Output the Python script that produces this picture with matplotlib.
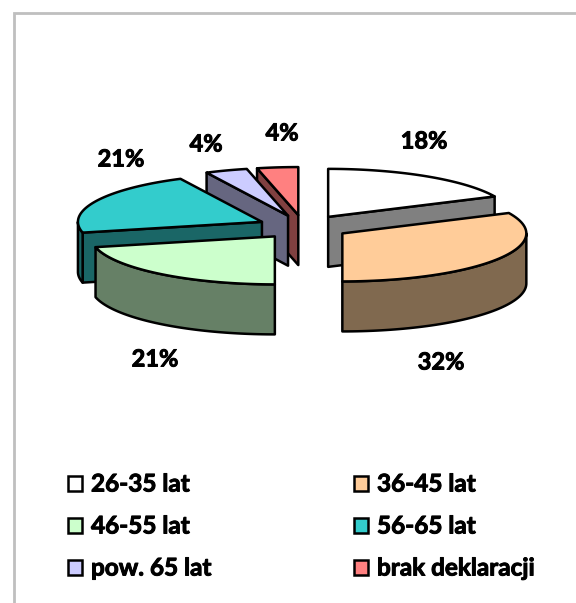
import numpy as np
import matplotlib
matplotlib.use("Agg")
import matplotlib.pyplot as plt
import matplotlib.patheffects as pe
from matplotlib.patches import Polygon, Rectangle

categories = ["26-35 lat", "36-45 lat", "46-55 lat", "56-65 lat", "pow. 65 lat", "brak deklaracji"]
shares = [18, 32, 21.4, 21.3, 3.7, 3.6]
colors = ["#FFFFFF", "#FFCC99", "#CCFFCC", "#33CCCC", "#CCCCFF", "#FF8080"]
side_colors = ["#808080", "#80694F", "#668066", "#1A6666", "#666680", "#804040"]

W, H = 576, 603
CX, CY, RX, RY, DEPTH, EXPLODE = 303.5, 227, 184, 48, 50, 0.25
LW = 1.8

plt.rcParams["font.family"] = ["Lato", "DejaVu Sans"]
fig = plt.figure(figsize=(W / 100, H / 100), dpi=100, facecolor="white")
ax = fig.add_axes([0, 0, 1, 1])
ax.set_xlim(0, W)
ax.set_ylim(H, 0)
ax.axis("off")

# frame (cropped at right and bottom)
ax.plot([14, 14, W], [H, 13, 13], color="#BFBFBF", lw=2, solid_joinstyle="miter")


def rim(cx, cy, a0, a1, n=60):
    t = np.radians(np.linspace(a0, a1, n))
    return np.column_stack([cx + RX * np.sin(t), cy - RY * np.cos(t)])


edges = np.cumsum([0] + shares) * 3.6
slices = []
for i in range(len(shares)):
    a0, a1 = edges[i], edges[i + 1]
    mid = np.radians((a0 + a1) / 2)
    cx = CX + EXPLODE * RX * np.sin(mid)
    cy = CY - EXPLODE * RY * np.cos(mid)
    slices.append((-np.cos(mid), i, a0, a1, cx, cy))

for _, i, a0, a1, cx, cy in sorted(slices):
    style = dict(edgecolor="black", lw=LW, joinstyle="round")
    down = np.array([0, DEPTH])
    apex = np.array([[cx, cy]])
    # flat cut faces that turn towards the viewer
    if 180 < a0 < 360:
        p = rim(cx, cy, a0, a0, 1)
        ax.add_patch(Polygon(np.vstack([apex, p, p + down, apex + down]),
                             facecolor=side_colors[i], **style))
    if 0 < a1 < 180:
        p = rim(cx, cy, a1, a1, 1)
        ax.add_patch(Polygon(np.vstack([apex, p, p + down, apex + down]),
                             facecolor=side_colors[i], **style))
    # outer curved wall
    lo, hi = max(a0, 90), min(a1, 270)
    if lo < hi:
        p = rim(cx, cy, lo, hi)
        ax.add_patch(Polygon(np.vstack([p, (p + down)[::-1]]),
                             facecolor=side_colors[i], **style))
    # top surface
    ax.add_patch(Polygon(np.vstack([apex, rim(cx, cy, a0, a1)]),
                         facecolor=colors[i], **style))

heavy = [pe.withStroke(linewidth=0.7, foreground="black")]
label_xy = [(424, 141), (441, 362), (155, 359), (121, 159), (206, 144), (282, 133)]
for v, (x, y) in zip(shares, label_xy):
    ax.text(x, y, f"{round(v)}%", ha="center", va="center", fontsize=17, fontweight="bold",
            color="black", path_effects=heavy)

legend_x = [68, 354]
legend_y = [483, 525, 567]
for i, name in enumerate(categories):
    x = legend_x[i % 2]
    y = legend_y[i // 2]
    ax.add_patch(Rectangle((x, y - 7.5), 14, 15, facecolor=colors[i], edgecolor="black", lw=1.8))
    ax.text(x + 23, y + 1, name, ha="left", va="center", fontsize=17.5, fontweight="bold",
            color="black", path_effects=heavy)

fig.savefig("out.png", dpi=100, facecolor="white")
